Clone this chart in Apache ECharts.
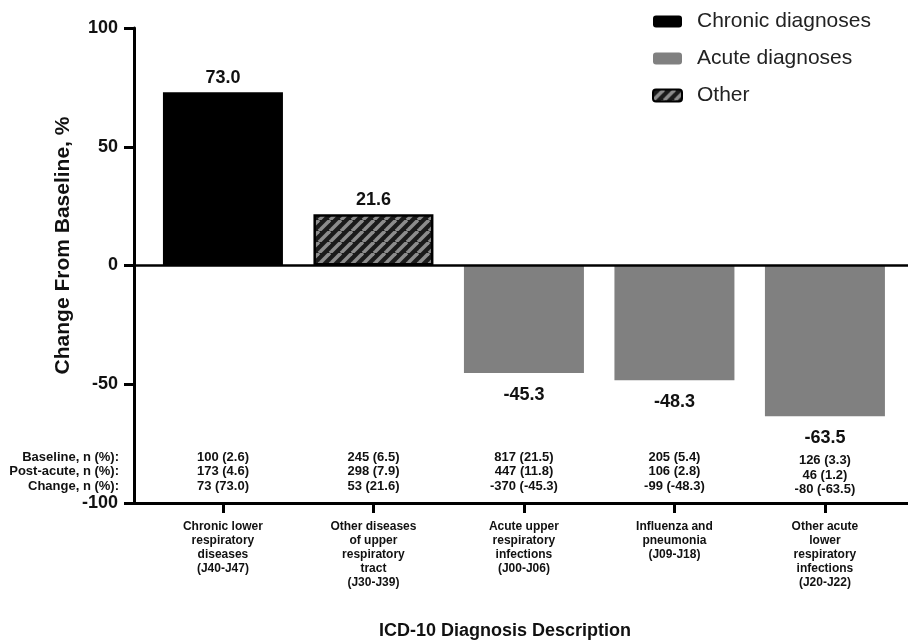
<!DOCTYPE html>
<html>
<head>
<meta charset="utf-8">
<script src="https://cdn.jsdelivr.net/npm/echarts@6/dist/echarts.min.js"></script>
<style>
html,body{margin:0;padding:0;background:#fff;}
#main{width:908px;height:641px;}
</style>
</head>
<body>
<div id="main"></div>
<script>
const categories = [
  'Chronic lower\nrespiratory\ndiseases\n(J40-J47)',
  'Other diseases\nof upper\nrespiratory\ntract\n(J30-J39)',
  'Acute upper\nrespiratory\ninfections\n(J00-J06)',
  'Influenza and\npneumonia\n(J09-J18)',
  'Other acute\nlower\nrespiratory\ninfections\n(J20-J22)'
];
const changePct = [73.0, 21.6, -45.3, -48.3, -63.5];
const groupOf = ['Chronic diagnoses', 'Other', 'Acute diagnoses', 'Acute diagnoses', 'Acute diagnoses'];
const seriesNames = ['Chronic diagnoses', 'Acute diagnoses', 'Other'];
const baselineN = ['100 (2.6)', '245 (6.5)', '817 (21.5)', '205 (5.4)', '126 (3.3)'];
const postAcuteN = ['173 (4.6)', '298 (7.9)', '447 (11.8)', '106 (2.8)', '46 (1.2)'];
const changeN = ['73 (73.0)', '53 (21.6)', '-370 (-45.3)', '-99 (-48.3)', '-80 (-63.5)'];
const rowLabels = ['Baseline, n (%):', 'Post-acute, n (%):', 'Change, n (%):'];
const yTicks = [-100, -50, 0, 50, 100];

const FONT = '"Liberation Sans", Arial, sans-serif';
const tableRows = [baselineN, postAcuteN, changeN];

// hatch pattern
function makeHatch() {
  const s = 11;
  const c = document.createElement('canvas');
  c.width = s; c.height = s;
  const g = c.getContext('2d');
  g.fillStyle = '#1a1a1a';
  g.fillRect(0, 0, s, s);
  g.strokeStyle = '#8c8c8c';
  g.lineWidth = 3.6;
  for (let k = -1; k <= 1; k++) {
    g.beginPath();
    g.moveTo(k * s, s);
    g.lineTo(k * s + s, 0);
    g.stroke();
  }
  return c;
}
const hatch = makeHatch();

const styles = {
  'Chronic diagnoses': { color: '#000000', borderColor: '#000000', borderWidth: 0 },
  'Acute diagnoses': { color: '#808080', borderColor: '#808080', borderWidth: 0 },
  'Other': { color: { image: hatch, repeat: 'repeat' }, borderColor: '#000000', borderWidth: 2.5 }
};

const barSeries = seriesNames.map(name => ({
  name: name,
  type: 'bar',
  barWidth: 120,
  barGap: '-100%',
  itemStyle: styles[name],
  label: {
    show: true,
    fontFamily: FONT,
    fontWeight: 'bold',
    fontSize: 18,
    color: '#111',
    formatter: p => p.value[1].toFixed(1)
  },
  data: changePct.map((v, i) => groupOf[i] === name ? {
    value: [i, v],
    label: { position: v < 0 ? 'bottom' : 'top', distance: v < 0 ? 13 : 5 }
  } : null).filter(d => d)
}));

// table rows as text in the plot
const rowY = [-80.8, -86.9, -93.1];
const tableData = [];
tableRows.forEach((row, r) => row.forEach((t, i) => {
  tableData.push([i, rowY[r] - (i === 4 ? 1.3 : 0), r]);
}));

const tableSeries = {
  type: 'custom',
  silent: true,
  clip: false,
  renderItem: function (params, api) {
    const p = api.coord([api.value(0), api.value(1)]);
    const r = api.value(2), i = api.value(0);
    return {
      type: 'text',
      x: p[0], y: p[1],
      style: {
        text: tableRows[r][i],
        align: 'center', verticalAlign: 'middle',
        fontFamily: FONT, fontWeight: 'bold', fontSize: 13,
        fill: '#111'
      }
    };
  },
  data: tableData,
  z: 5
};

// zero line
barSeries[0].markLine = {
  silent: true,
  symbol: 'none',
  label: { show: false },
  lineStyle: { color: '#000', width: 2.5, type: 'solid' },
  data: [{ yAxis: 0 }]
};

const chart = echarts.init(document.getElementById('main'));
const option = {
  animation: false,
  backgroundColor: '#fff',
  grid: { left: 134, right: 0, top: 28, bottom: 138, containLabel: false, outerBoundsMode: 'none' },
  legend: {
    orient: 'vertical',
    left: 647, top: 6,
    itemWidth: 29, itemHeight: 12,
    itemGap: 16,
    icon: 'roundRect',
    data: seriesNames,
    textStyle: { fontFamily: FONT, fontSize: 21, color: '#222', padding: [0, 0, 0, 10], lineHeight: 21 }
  },
  xAxis: {
    type: 'value',
    min: -0.591, max: 4.552,
    axisLine: { onZero: false, lineStyle: { color: '#000', width: 3 } },
    axisTick: { show: true, length: 10, lineStyle: { color: '#000', width: 3 }, customValues: [0, 1, 2, 3, 4] },
    axisLabel: {
      customValues: [0, 1, 2, 3, 4],
      formatter: v => categories[Math.round(v)],
      fontFamily: FONT, fontWeight: 'bold', fontSize: 12, lineHeight: 14, color: '#111',
      margin: 17, align: 'center', verticalAlign: 'top'
    },
    splitLine: { show: false },
    name: 'ICD-10 Diagnosis Description',
    nameLocation: 'middle',
    nameGap: 119,
    nameMoveOverlap: false,
    nameTextStyle: { fontFamily: FONT, fontWeight: 'bold', fontSize: 18, color: '#111', padding: [0, 32, 0, 0] }
  },
  yAxis: {
    type: 'value',
    min: -100, max: 100, interval: 50,
    axisLine: { show: true, onZero: false, lineStyle: { color: '#000', width: 3 } },
    axisTick: { show: true, length: 10, lineStyle: { color: '#000', width: 3 } },
    axisLabel: { fontFamily: FONT, fontWeight: 'bold', fontSize: 18, color: '#111', margin: 16 },
    splitLine: { show: false },
    name: 'Change From Baseline, %',
    nameLocation: 'middle',
    nameGap: 60,
    nameMoveOverlap: false,
    nameTextStyle: { fontFamily: FONT, fontWeight: 'bold', fontSize: 21, color: '#111', padding: [0, 0, 0, 40] }
  },
  graphic: rowLabels.map((t, r) => ({
    type: 'text',
    id: 'rowlabel' + r,
    style: { text: t, fontFamily: FONT, fontWeight: 'bold', fontSize: 13, fill: '#111', align: 'right', verticalAlign: 'middle' }
  })),
  series: barSeries.concat([tableSeries])
};
chart.setOption(option);
// place row labels at the same heights as the table rows
chart.setOption({
  graphic: rowLabels.map((t, r) => ({
    id: 'rowlabel' + r,
    x: 119,
    y: chart.convertToPixel({ yAxisIndex: 0 }, rowY[r])
  }))
});
</script>
</body>
</html>
